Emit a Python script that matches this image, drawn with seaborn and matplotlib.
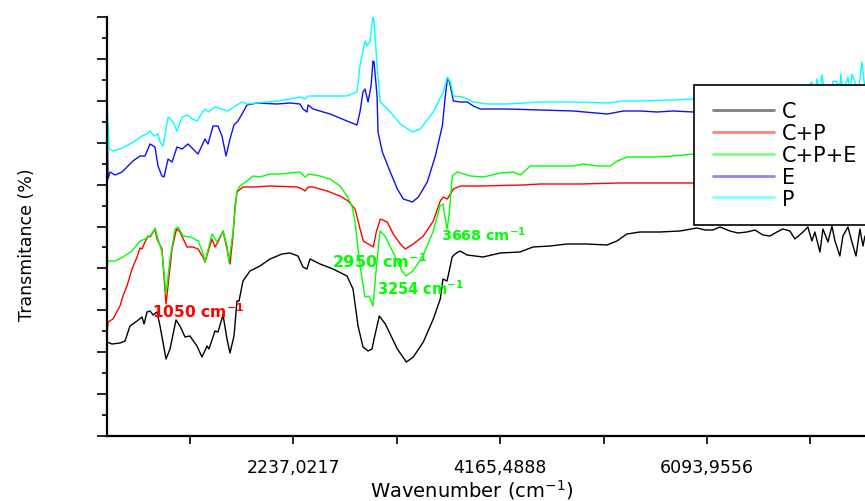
import numpy as np
import pandas as pd
import matplotlib
matplotlib.use("Agg")
import matplotlib.pyplot as plt
from matplotlib.patches import Rectangle
import seaborn as sns

# FTIR spectra, transmittance in arbitrary units (curves are offset)
c_wn = [504, 551, 625, 672, 718, 784, 830, 849, 877, 905, 933, 970, 998, 1054, 1091, 1147, 1184, 1231,
        1277, 1342, 1389, 1436, 1454, 1510, 1538, 1585, 1622, 1650, 1687, 1715, 1734, 1771, 1836, 1929,
        2023, 2134, 2209, 2283, 2330, 2367, 2395, 2489, 2610, 2740, 2796, 2843, 2889, 2936, 2973, 2992,
        3041, 3097, 3209, 3293, 3358, 3451, 3544, 3609, 3634, 3672, 3720, 3747, 3793, 3858, 4007, 4168,
        4351, 4473, 4631, 4789, 4976, 5162, 5255, 5348, 5469, 5655, 5842, 6000, 6078, 6149, 6215, 6307,
        6383, 6466, 6541, 6615, 6680, 6746, 6801, 6866, 6913, 6988, 7034, 7071, 7099, 7146, 7174, 7221,
        7258, 7286, 7332, 7360, 7407, 7444, 7482, 7519, 7547, 7566]
c_T = [94, 92, 93, 95, 110, 115, 119, 112, 124, 125, 121, 124, 110, 77, 87, 116, 110, 99,
       100, 90, 79, 90, 87, 105, 104, 121, 97, 83, 100, 135, 135, 155, 165, 170,
       177, 182, 183, 180, 169, 167, 177, 172, 167, 160, 147, 110, 89, 85, 87, 97,
       120, 112, 87, 74, 79, 94, 117, 137, 157, 155, 179, 182, 185, 181, 179, 183,
       184, 189, 190, 192, 192, 191, 195, 202, 204, 204, 205, 208, 206, 206, 209, 205,
       203, 204, 206, 201, 200, 204, 207, 205, 197, 204, 209, 195, 204, 184, 207, 194,
       210, 195, 180, 200, 209, 194, 180, 207, 190, 200]

cp_wn = [504, 513, 560, 625, 653, 690, 737, 784, 811, 830, 858, 886, 905, 923, 951, 970, 1016, 1054,
         1110, 1147, 1156, 1184, 1249, 1305, 1352, 1398, 1417, 1482, 1510, 1538, 1585, 1622, 1650, 1678,
         1697, 1715, 1771, 1864, 2023, 2274, 2321, 2349, 2377, 2424, 2554, 2675, 2750, 2815, 2862, 2892,
         2938, 2985, 3013, 3050, 3115, 3171, 3237, 3283, 3358, 3451, 3544, 3609, 3637, 3675, 3703, 3731,
         3796, 3982, 4383, 4541, 4914, 5286, 5966, 6590, 7566]
cp_T = [100, 114, 117, 130, 140, 150, 167, 179, 188, 187, 194, 200, 199, 202, 207, 197, 187, 132,
        187, 205, 207, 204, 189, 189, 187, 179, 174, 197, 189, 194, 205, 187, 172, 200,
        230, 244, 249, 249, 250, 249, 247, 245, 249, 249, 245, 240, 235, 227, 207, 195,
        192, 189, 204, 217, 214, 202, 192, 187, 192, 200, 215, 235, 239, 237, 242, 247,
        250, 250, 251, 252, 252, 253, 253, 253, 254]

cpe_wn = [504, 513, 579, 653, 737, 811, 858, 905, 933, 951, 979, 1016, 1054, 1091, 1138, 1166, 1213, 1280,
          1354, 1401, 1417, 1482, 1529, 1569, 1585, 1622, 1640, 1678, 1715, 1743, 1808, 1864, 1929, 2023,
          2116, 2302, 2349, 2386, 2489, 2582, 2675, 2740, 2786, 2815, 2843, 2880, 2908, 2945, 2982, 3010,
          3047, 3094, 3168, 3252, 3289, 3354, 3447, 3541, 3606, 3634, 3653, 3672, 3690, 3721, 3768, 3889,
          4010, 4168, 4289, 4355, 4448, 4541, 4699, 4848, 4941, 5072, 5193, 5258, 5351, 5472, 5630, 5779,
          5966, 7566]
cpe_T = [167, 175, 175, 179, 185, 195, 197, 200, 204, 208, 197, 184, 142, 177, 207, 209, 200, 199,
         195, 182, 174, 202, 194, 202, 205, 190, 174, 204, 245, 250, 255, 260, 259, 262,
         262, 264, 259, 262, 260, 257, 250, 240, 230, 214, 187, 157, 139, 140, 130, 164,
         205, 200, 184, 165, 160, 165, 180, 204, 230, 232, 219, 207, 220, 260, 264, 260,
         259, 263, 264, 261, 270, 270, 270, 270, 272, 270, 270, 275, 279, 279, 279, 280,
         282, 287]

e_wn = [504, 513, 532, 579, 644, 690, 746, 811, 858, 905, 951, 979, 1016, 1035, 1073, 1110, 1156, 1203,
        1259, 1305, 1352, 1417, 1445, 1492, 1538, 1575, 1613, 1650, 1687, 1724, 1762, 1808, 1901, 2088,
        2209, 2302, 2330, 2367, 2377, 2424, 2582, 2740, 2833, 2861, 2889, 2908, 2936, 2964, 2982, 2992,
        3020, 3029, 3069, 3143, 3209, 3265, 3349, 3405, 3488, 3563, 3628, 3656, 3675, 3693, 3731, 3796,
        3861, 3917, 3982, 4234, 4541, 4848, 5165, 5314, 5472, 5630, 5779, 5966, 7566]
e_T = [335, 257, 264, 261, 264, 269, 275, 280, 280, 292, 289, 270, 260, 259, 277, 274, 289, 287,
       292, 287, 282, 297, 292, 310, 310, 300, 280, 297, 311, 315, 322, 331, 333, 332,
       333, 332, 327, 324, 331, 327, 322, 315, 311, 324, 344, 347, 334, 350, 375, 374,
       340, 304, 284, 264, 247, 237, 234, 239, 254, 280, 310, 340, 357, 355, 335, 334,
       334, 330, 327, 327, 326, 325, 322, 325, 325, 324, 325, 324, 325]

p_wn = [504, 523, 560, 625, 700, 765, 830, 877, 905, 942, 979, 998, 1026, 1054, 1073, 1119, 1156, 1203,
        1252, 1299, 1345, 1392, 1420, 1448, 1510, 1575, 1631, 1715, 1762, 1808, 1901, 2088, 2209, 2302,
        2349, 2377, 2489, 2740, 2833, 2861, 2908, 2926, 2954, 2982, 2992, 3020, 3050, 3143, 3237, 3349,
        3423, 3544, 3637, 3675, 3703, 3731, 3824, 3917, 4047, 4234, 4541, 4848, 5165, 5314, 5472, 5779,
        5966, 6587, 6960, 7071, 7099, 7118, 7146, 7165, 7193, 7240, 7268, 7305, 7323, 7342, 7360, 7407,
        7426, 7444, 7472, 7500, 7537, 7566]
p_T = [335, 287, 285, 287, 291, 295, 300, 302, 305, 300, 302, 294, 290, 307, 319, 314, 305, 319,
       321, 317, 315, 324, 327, 324, 329, 327, 325, 331, 334, 332, 333, 335, 337, 339,
       337, 340, 340, 340, 344, 370, 395, 390, 394, 419, 415, 370, 334, 324, 312, 304,
       307, 324, 344, 359, 354, 340, 339, 334, 332, 332, 334, 334, 333, 335, 335, 336,
       337, 339, 341, 354, 341, 357, 342, 361, 343, 340, 355, 354, 340, 362, 342, 359,
       341, 362, 354, 339, 374, 347]

samples = ["C", "C+P", "C+P+E", "E", "P"]
colors = ["black", "#ff0000", "#00ff00", "#1010f0", "#00ffff"]

peak_labels = [r"1050 cm$^{\mathbf{-1}}$", r"2950 cm$^{\mathbf{-1}}$",
               r"3254 cm$^{\mathbf{-1}}$", r"3668 cm$^{\mathbf{-1}}$"]
peak_x = [923, 2598, 3017, 3617]
peak_y = [125, 175, 148, 202]
peak_colors = ["#ff0000", "#00ff00", "#00ff00", "#00ff00"]
peak_sizes = [11.2, 11.6, 10.5, 10.4]

xtick_pos = [2237.0217, 4165.4888, 6093.9556]
xtick_lab = ["2237,0217", "4165,4888", "6093,9556"]

frames = []
for name, wn, t in zip(samples, [c_wn, cp_wn, cpe_wn, e_wn, p_wn], [c_T, cp_T, cpe_T, e_T, p_T]):
    frames.append(pd.DataFrame({"wn": wn, "T": t, "sample": name}))
df = pd.concat(frames, ignore_index=True)

sns.set_style("ticks", {"axes.edgecolor": "black", "text.color": "black",
                        "xtick.color": "black", "ytick.color": "black",
                        "axes.labelcolor": "black"})
plt.rcParams["font.family"] = ["DejaVu Sans"]
plt.rcParams["mathtext.fontset"] = "dejavusans"

fig = plt.figure(figsize=(8.65, 5.02), dpi=100)
ax = fig.add_axes([107 / 865, 65 / 502, 758 / 865, 419 / 502])

sns.lineplot(data=df, x="wn", y="T", hue="sample", hue_order=samples,
             palette=dict(zip(samples, colors)), estimator=None, sort=False,
             linewidth=1.0, ax=ax)

ax.set_xlim(504, 7566)
ax.set_ylim(0, 419)
ax.set_xticks(xtick_pos)
ax.set_xticklabels(xtick_lab, fontsize=12.5)
ax.set_xticks([1272.788, 3201.255, 5129.722, 7058.189], minor=True)
ax.set_yticks(np.arange(0, 420, 41.9))
ax.set_yticks(np.arange(20.95, 420, 41.9), minor=True)
ax.set_yticklabels([])
ax.tick_params(axis="y", which="major", direction="out", length=7.5, width=1.2)
ax.tick_params(axis="y", which="minor", direction="out", length=3.8, width=1.2)
ax.tick_params(axis="x", which="major", direction="out", length=6, width=1.2, pad=10)
ax.tick_params(axis="x", which="minor", direction="out", length=6, width=1.2)

for s in ["top", "right"]:
    ax.spines[s].set_visible(False)
for s in ["left", "bottom"]:
    ax.spines[s].set_linewidth(1.6)

ax.set_xlabel(r"Wavenumber (cm$^{-1}$)", fontsize=14, va="center")
ax.xaxis.set_label_coords(0.4815, -0.126)
ax.set_ylabel("Transmitance (%)", fontsize=12.5, va="center")
ax.yaxis.set_label_coords(-0.1055, 0.46)

for lab, x, y, col, fs in zip(peak_labels, peak_x, peak_y, peak_colors, peak_sizes):
    ax.text(x, y, lab, color=col, fontsize=fs, fontweight="bold", ha="left", va="center")

# legend box runs past the right edge of the figure
box = Rectangle((587 / 758, 211 / 419), 0.4, 140 / 419, transform=ax.transAxes,
                facecolor="white", edgecolor="black", linewidth=1.2, zorder=4, clip_on=False)
ax.add_patch(box)
leg = ax.legend(loc="upper left", bbox_to_anchor=(606 / 758, 334.5 / 419), frameon=False,
                fontsize=15, handlelength=2.93, handletextpad=0.38, labelspacing=0.085,
                borderaxespad=0, borderpad=0)
leg.set_zorder(5)
for h in leg.legend_handles:
    h.set_linewidth(2.0)
    h.set_alpha(0.5)

fig.savefig("out.png", dpi=100)
